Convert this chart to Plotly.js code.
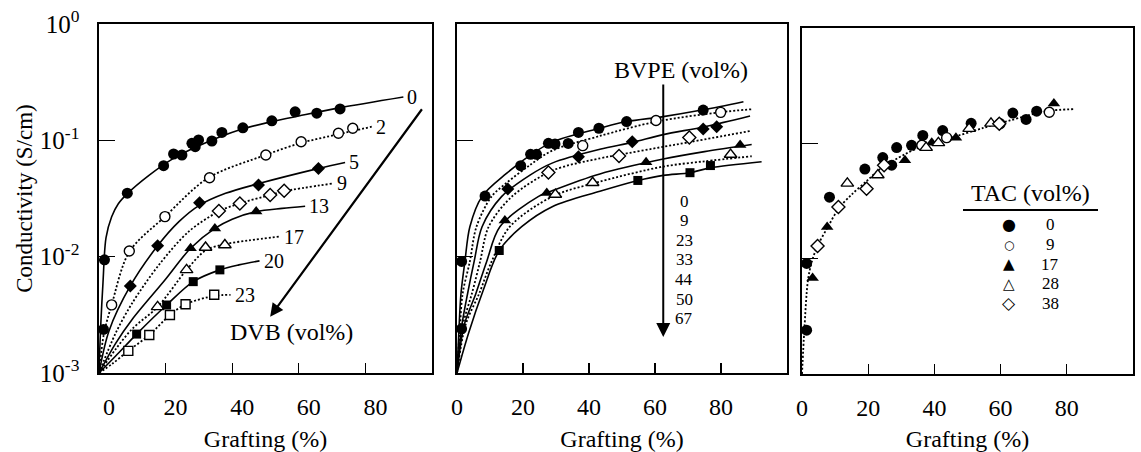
<!DOCTYPE html>
<html><head><meta charset="utf-8">
<script src="https://cdn.plot.ly/plotly-3.0.1.min.js"></script>
<style>html,body{margin:0;padding:0;background:#fff}</style>
</head><body><div id="chart" style="width:1141px;height:452px"></div>
<script>
// ---------- Panel 1: DVB (vol%) ----------
const dvbNames = ['0','2','5','9','13','17','20','23'];
const dvb0PtX = [1.35, 1.65, 8.5, 19.4, 22.4, 24.9, 27.9, 28.9, 29.9, 33.9, 36.9, 43.2, 51.9, 58.9, 65.4, 72.4];
const dvb0PtY = [0.00237, 0.0094, 0.0351, 0.0605, 0.0763, 0.0748, 0.0943, 0.0882, 0.1007, 0.0987, 0.117, 0.128, 0.147, 0.176, 0.171, 0.186];
const dvb2PtX = [3.8, 9.1, 19.8, 33.2, 50.1, 60.7, 71.9, 76.2];
const dvb2PtY = [0.00385, 0.0112, 0.0221, 0.0477, 0.0748, 0.0973, 0.115, 0.127];
const dvb5PtX = [9.4, 17.6, 30.2, 47.9, 65.9];
const dvb5PtY = [0.0056, 0.0124, 0.0291, 0.0413, 0.0574];
const dvb9PtX = [36, 42.3, 51.4, 55.6];
const dvb9PtY = [0.0247, 0.0287, 0.0339, 0.0369];
const dvb13PtX = [27.5, 34.8, 47.2];
const dvb13PtY = [0.0118, 0.0175, 0.0244];
const dvb17PtX = [17.6, 26.3, 32, 37.8];
const dvb17PtY = [0.0037, 0.0077, 0.012, 0.0126];
const dvb20PtX = [11.3, 20.3, 28.3, 36.3];
const dvb20PtY = [0.00216, 0.00384, 0.0061, 0.0077];
const dvb23PtX = [8.8, 15.1, 21.3, 26, 34.6];
const dvb23PtY = [0.00155, 0.00212, 0.00315, 0.0039, 0.0047];

const dvb0FitX = [0, 0.5, 1.2, 2.1, 3.8, 5.8, 8.6, 15, 22, 30, 43, 52, 60, 72, 91.4];
const dvb0FitY = [0.001, 0.0025, 0.006, 0.0145, 0.022, 0.0285, 0.035, 0.05, 0.069, 0.09, 0.125, 0.145, 0.162, 0.19, 0.236];
const dvb2FitX = [0, 1.5, 3.8, 9.1, 19.8, 32.8, 50, 60.7, 72, 81.9];
const dvb2FitY = [0.001, 0.0022, 0.00385, 0.011, 0.0221, 0.0475, 0.0748, 0.095, 0.113, 0.131];
const dvb5FitX = [0, 3, 9.4, 17.6, 24, 30, 38, 48, 66, 73.9];
const dvb5FitY = [0.001, 0.0023, 0.0056, 0.0124, 0.02, 0.0275, 0.035, 0.0425, 0.0574, 0.0646];
const dvb9FitX = [0, 5, 10, 18, 27, 36, 42.3, 51.4, 55.6, 70.3];
const dvb9FitY = [0.001, 0.0022, 0.004, 0.0085, 0.0165, 0.0245, 0.0287, 0.0339, 0.0365, 0.0426];
const dvb13FitX = [0, 5, 10, 19.8, 27.5, 34.8, 40, 47.2, 55, 61.9];
const dvb13FitY = [0.001, 0.0018, 0.0029, 0.0063, 0.0118, 0.0175, 0.021, 0.0244, 0.026, 0.0271];
const dvb17FitX = [0, 5, 10, 17.6, 26.3, 32, 37.8, 45, 54.4];
const dvb17FitY = [0.001, 0.0016, 0.0024, 0.0037, 0.0077, 0.0113, 0.0128, 0.0138, 0.0149];
const dvb20FitX = [0, 5, 11.3, 20.3, 28.3, 36.3, 42, 48.2];
const dvb20FitY = [0.001, 0.0014, 0.00216, 0.00384, 0.0061, 0.0077, 0.0085, 0.0092];
const dvb23FitX = [0, 4, 8.8, 15.1, 21.3, 26, 34.6, 39.5];
const dvb23FitY = [0.001, 0.0012, 0.00155, 0.00212, 0.00315, 0.0039, 0.0046, 0.0047];

// ---------- Panel 2: BVPE (vol%) ----------
const bvpeNames = ['0','9','23','33','44','50','67'];
const bvpe0PtX = [1.4, 1.4, 8.5, 19.3, 22.3, 24.1, 27.7, 29.7, 33.7, 36.8, 43, 51.4, 74.6];
const bvpe0PtY = [0.0024, 0.0091, 0.0332, 0.0605, 0.0759, 0.0759, 0.0943, 0.093, 0.094, 0.117, 0.127, 0.145, 0.182];
const bvpe9PtX = [38.1, 60.3, 79.9];
const bvpe9PtY = [0.090, 0.148, 0.174];
const bvpe23PtX = [15.4, 36.8, 53.1, 74.6, 78.7];
const bvpe23PtY = [0.0382, 0.0723, 0.0973, 0.125, 0.131];
const bvpe33PtX = [27.7, 49.1, 70.4];
const bvpe33PtY = [0.053, 0.0733, 0.106];
const bvpe44PtX = [14.5, 27.2, 57.3, 85.8];
const bvpe44PtY = [0.0205, 0.0352, 0.0647, 0.0912];
const bvpe50PtX = [29.8, 41.1, 82.9];
const bvpe50PtY = [0.0342, 0.0432, 0.0755];
const bvpe67PtX = [12.8, 54.8, 70.6, 76.8];
const bvpe67PtY = [0.0113, 0.0452, 0.0527, 0.0607];

const bvpe0FitX = [0, 0.6, 1.2, 2.4, 3.9, 7.6, 15, 22, 29, 43.3, 51.4, 62.5, 74.6, 86.8];
const bvpe0FitY = [0.001, 0.0024, 0.0048, 0.0091, 0.0181, 0.033, 0.052, 0.074, 0.097, 0.127, 0.145, 0.16, 0.183, 0.215];
const bvpe9FitX = [0, 0.9, 1.7, 3.9, 5.9, 10.5, 15, 22, 29, 43.3, 60.5, 80.2, 89.3];
const bvpe9FitY = [0.001, 0.0025, 0.0048, 0.0091, 0.0181, 0.033, 0.043, 0.061, 0.082, 0.109, 0.145, 0.175, 0.185];
const bvpe23FitX = [0, 1.5, 3.2, 5.2, 7.6, 13.5, 22, 29, 43.3, 53, 62.5, 75, 88.8];
const bvpe23FitY = [0.001, 0.0026, 0.0048, 0.0091, 0.0181, 0.0328, 0.05, 0.064, 0.0837, 0.096, 0.112, 0.131, 0.162];
const bvpe33FitX = [0, 1.8, 4.5, 7, 9.6, 16.6, 29, 43.3, 49, 62.5, 70, 89.3];
const bvpe33FitY = [0.001, 0.0026, 0.0048, 0.0091, 0.0181, 0.0328, 0.055, 0.070, 0.075, 0.088, 0.096, 0.121];
const bvpe44FitX = [0, 2.2, 5.7, 9, 13, 24.6, 29, 43.3, 62.5, 75, 89.3];
const bvpe44FitY = [0.001, 0.0026, 0.0048, 0.0091, 0.0181, 0.0328, 0.037, 0.0514, 0.069, 0.08, 0.092];
const bvpe50FitX = [0, 2.6, 6.7, 10.5, 16, 29, 43.3, 62.5, 75, 89.3];
const bvpe50FitY = [0.001, 0.0026, 0.0048, 0.0091, 0.0181, 0.033, 0.0441, 0.0595, 0.066, 0.073];
const bvpe67FitX = [0, 3.5, 8, 12.8, 19.6, 29, 43.3, 54.6, 62.5, 70.6, 76.7, 92.3];
const bvpe67FitY = [0.001, 0.0022, 0.0052, 0.0113, 0.0181, 0.027, 0.0365, 0.045, 0.05, 0.0527, 0.058, 0.0655];

// ---------- Panel 3: TAC (vol%) ----------
const tacNames = ['0','9','17','28','38'];
const tacGlyphs = ['\u25CF','\u25CB','\u25B2','\u25B3','\u25C7'];
const tac0X = [1.4, 1.4, 8.3, 19, 24.4, 27.1, 28.6, 33.1, 36.5, 42.5, 51.1, 63.7, 67.7, 70.9];
const tac0Y = [0.0024, 0.0091, 0.0341, 0.0598, 0.0753, 0.0647, 0.0918, 0.0962, 0.117, 0.129, 0.149, 0.183, 0.161, 0.19];
const tac9X = [36.2, 43.7, 59.8, 74.7];
const tac9Y = [0.0962, 0.112, 0.148, 0.186];
const tac17X = [3.2, 7.6, 31.1, 39.2, 46.5, 76.1];
const tac17Y = [0.0068, 0.0188, 0.0715, 0.101, 0.112, 0.221];
const tac28X = [13.7, 22.9, 37.5, 41.2, 50.5, 57.1];
const tac28Y = [0.045, 0.0531, 0.0918, 0.101, 0.134, 0.149];
const tac38X = [4.7, 11, 19.5, 24.8, 59.6];
const tac38Y = [0.0129, 0.028, 0.0403, 0.0647, 0.148];
const tacFitX = [0, 0.7, 1.8, 3, 4.7, 7.8, 11, 15, 19.5, 23.6, 31.1, 37.7, 46.7, 54.8, 62.8, 73.9, 82.5];
const tacFitY = [0.001, 0.0024, 0.0065, 0.0095, 0.0129, 0.0188, 0.027, 0.036, 0.047, 0.0598, 0.0805, 0.098, 0.1156, 0.136, 0.158, 0.19, 0.198];

// ---------- Axis ticks ----------
const yTickVals = [0.001, 0.01, 0.1, 1];
const yTickText = ['10<sup>-3</sup>', '10<sup>-2</sup>', '10<sup>-1</sup>', '10<sup>0</sup>'];
const xTicks12 = [0, 20, 40, 60, 80];
const xTicks3 = [0, 20, 40, 60, 80, 100];

// ---------- Build ----------
const FONT = 'Liberation Serif, Times New Roman, serif';
const W = 1141, H = 452;
const PX = v => v / W, PY = v => 1 - v / H;
const DOTS = '2px,2px';

function fit(x, y, dash, xa, ya) {
  return {type:'scatter', mode:'lines', x:x, y:y, xaxis:xa, yaxis:ya, showlegend:false, hoverinfo:'skip',
    line:{color:'black', width: dash === 'solid' ? 1.6 : 1.8, dash:dash, shape:'spline', smoothing:0.9}};
}
function pts(x, y, sym, open, size, xa, ya) {
  return {type:'scatter', mode:'markers', x:x, y:y, xaxis:xa, yaxis:ya, showlegend:false, hoverinfo:'skip',
    marker:{symbol:sym, size:size, color: open ? 'white' : 'black', line:{color:'black', width: open ? 1.4 : 0}}};
}

const dvbFits = [[dvb0FitX,dvb0FitY],[dvb2FitX,dvb2FitY],[dvb5FitX,dvb5FitY],[dvb9FitX,dvb9FitY],
                 [dvb13FitX,dvb13FitY],[dvb17FitX,dvb17FitY],[dvb20FitX,dvb20FitY],[dvb23FitX,dvb23FitY]];
const dvbPts = [[dvb0PtX,dvb0PtY],[dvb2PtX,dvb2PtY],[dvb5PtX,dvb5PtY],[dvb9PtX,dvb9PtY],
                [dvb13PtX,dvb13PtY],[dvb17PtX,dvb17PtY],[dvb20PtX,dvb20PtY],[dvb23PtX,dvb23PtY]];
const bvpeFits = [[bvpe0FitX,bvpe0FitY],[bvpe9FitX,bvpe9FitY],[bvpe23FitX,bvpe23FitY],[bvpe33FitX,bvpe33FitY],
                  [bvpe44FitX,bvpe44FitY],[bvpe50FitX,bvpe50FitY],[bvpe67FitX,bvpe67FitY]];
const bvpePts = [[bvpe0PtX,bvpe0PtY],[bvpe9PtX,bvpe9PtY],[bvpe23PtX,bvpe23PtY],[bvpe33PtX,bvpe33PtY],
                 [bvpe44PtX,bvpe44PtY],[bvpe50PtX,bvpe50PtY],[bvpe67PtX,bvpe67PtY]];
const tacPts = [[tac0X,tac0Y],[tac9X,tac9Y],[tac17X,tac17Y],[tac28X,tac28Y],[tac38X,tac38Y]];

const styles = [['circle',false,11],['circle',true,10],['diamond',false,10],['diamond',true,10],
                ['triangle-up',false,11],['triangle-up',true,11],['square',false,9],['square',true,9]];
const tacStyles = [['circle',false,11],['circle',true,10],['triangle-up',false,11],['triangle-up',true,11],['diamond',true,10]];

const traces = [];
dvbFits.forEach((f,i) => traces.push(fit(f[0], f[1], i % 2 ? DOTS : 'solid', 'x', 'y')));
bvpeFits.forEach((f,i) => traces.push(fit(f[0], f[1], i % 2 ? DOTS : 'solid', 'x2', 'y2')));
traces.push(fit(tacFitX, tacFitY, DOTS, 'x3', 'y3'));
dvbPts.forEach((p,i) => traces.push(pts(p[0], p[1], styles[i][0], styles[i][1], styles[i][2], 'x', 'y')));
bvpePts.forEach((p,i) => traces.push(pts(p[0], p[1], styles[i][0], styles[i][1], styles[i][2], 'x2', 'y2')));
tacPts.forEach((p,i) => traces.push(pts(p[0], p[1], tacStyles[i][0], tacStyles[i][1], tacStyles[i][2], 'x3', 'y3')));

const txtFont = s => ({family:FONT, size:s, color:'black'});

function xaxis(dom, ticks, shift) {
  return {domain:dom, range:[0,100], tickvals:ticks, ticktext:ticks.map(String), ticks:'inside', ticklen:10,
    tickwidth:1.2, tickcolor:'black', showline:true, linecolor:'black', linewidth:1.6, mirror:true,
    showgrid:false, zeroline:false, tickfont:txtFont(24), ticklabelshift:shift, ticklabelstandoff:12,
    title:{text:'Grafting (%)', font:txtFont(24), standoff:14}, fixedrange:true};
}
function yaxis(dom, anchor, labels) {
  const a = {domain:dom, anchor:anchor, type:'log', range:[-3,0], tickvals:yTickVals, ticktext:yTickText,
    showticklabels:labels, ticks:'inside', ticklen:16, tickwidth:1.2, tickcolor:'black',
    showline:true, linecolor:'black', linewidth:1.6, mirror:true, showgrid:false, zeroline:false,
    tickfont:txtFont(25), ticklabelstandoff:13, fixedrange:true};
  if (labels) a.title = {text:'Conductivity (S/cm)', font:txtFont(23), standoff:1};
  return a;
}

const yDom12 = [PY(373), PY(24)];
const yDom3 = [PY(374), PY(28)];

const annotations = [];
dvbFits.forEach((f,i) => {
  const n = f[0].length;
  annotations.push({xref:'x', yref:'y', x:f[0][n-1], y:Math.log10(f[1][n-1]), text:dvbNames[i],
    showarrow:false, xanchor:'left', yanchor:'middle', xshift:2, font:txtFont(20)});
});
annotations.push({xref:'paper', yref:'paper', x:PX(291), y:PY(332), text:'DVB (vol%)', showarrow:false,
  xanchor:'center', yanchor:'middle', font:txtFont(24)});
annotations.push({xref:'x', yref:'y', axref:'x', ayref:'y', x:51.4, y:-2.516, ax:97.3, ay:-0.72,
  text:'', showarrow:true, arrowhead:2, arrowsize:1.2, arrowwidth:2.2, arrowcolor:'black', standoff:0});
annotations.push({xref:'paper', yref:'paper', x:PX(681), y:PY(70), text:'BVPE (vol%)', showarrow:false,
  xanchor:'center', yanchor:'middle', font:txtFont(24)});
annotations.push({xref:'x2', yref:'y2', axref:'x2', ayref:'y2', x:62.5, y:-2.69, ax:62.5, ay:-0.507,
  text:'', showarrow:true, arrowhead:2, arrowsize:1.4, arrowwidth:2, arrowcolor:'black', standoff:0});
bvpeNames.forEach((n,i) => annotations.push({xref:'paper', yref:'paper', x:PX(684), y:PY(201 + i*19.6), text:n,
  showarrow:false, xanchor:'center', yanchor:'middle', font:txtFont(17)}));
annotations.push({xref:'paper', yref:'paper', x:PX(1030), y:PY(193), text:'TAC (vol%)', showarrow:false,
  xanchor:'center', yanchor:'middle', font:txtFont(24)});
const glyphSizes = [16, 12, 15, 15, 17];
tacNames.forEach((n,i) => {
  const yy = PY(225 + i*19.6);
  annotations.push({xref:'paper', yref:'paper', x:PX(1009), y:yy, text:tacGlyphs[i], showarrow:false,
    xanchor:'center', yanchor:'middle', font:{family:'DejaVu Sans', size:glyphSizes[i], color:'black'}});
  annotations.push({xref:'paper', yref:'paper', x:PX(1050), y:yy, text:n, showarrow:false,
    xanchor:'center', yanchor:'middle', font:txtFont(17)});
});

const layout = {
  width:W, height:H, margin:{l:0, r:0, t:0, b:0}, paper_bgcolor:'white', plot_bgcolor:'white',
  showlegend:false, font:{family:FONT, color:'black'},
  xaxis: Object.assign(xaxis([PX(99), PX(432)], xTicks12, 10), {anchor:'y'}),
  xaxis2: Object.assign(xaxis([PX(457), PX(787)], xTicks12, 0), {anchor:'y2'}),
  xaxis3: Object.assign(xaxis([PX(802), PX(1133)], xTicks3, 0), {anchor:'y3'}),
  yaxis: yaxis(yDom12, 'x', true),
  yaxis2: yaxis(yDom12, 'x2', false),
  yaxis3: yaxis(yDom3, 'x3', false),
  annotations: annotations,
  shapes: [{type:'line', xref:'paper', yref:'paper', x0:PX(963), x1:PX(1098), y0:PY(210), y1:PY(210),
    line:{color:'black', width:2}}]
};

Plotly.newPlot('chart', traces, layout, {displayModeBar:false, staticPlot:true});
</script></body></html>
